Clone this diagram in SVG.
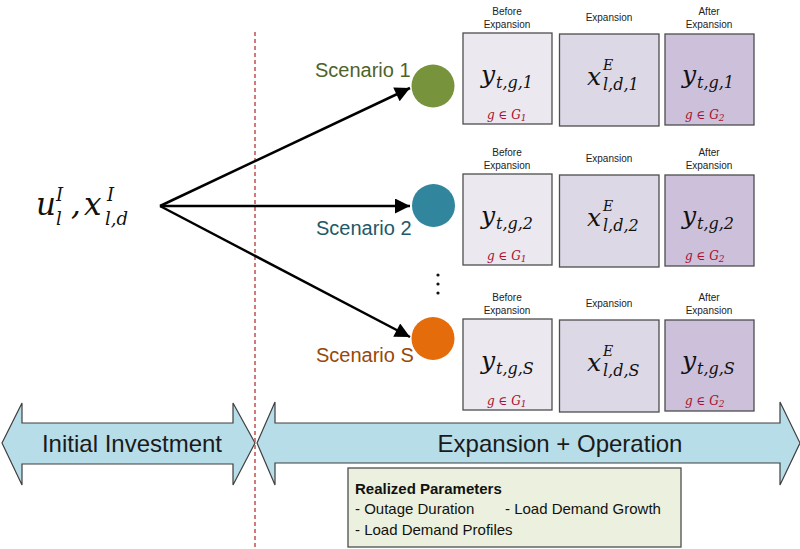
<svg xmlns="http://www.w3.org/2000/svg" width="800" height="549" viewBox="0 0 800 549">
<style>
.sans{font-family:"Liberation Sans","Noto Sans",sans-serif}
.math{font-family:"DejaVu Serif","Liberation Serif",serif;font-style:italic;fill:#111}
.m{font-size:25px}
.sb{font-size:16px}
.sp{font-size:14px}
.hdr{font-family:"Liberation Sans","Noto Sans",sans-serif;font-size:10px;fill:#222;text-anchor:middle}
.b1{fill:#ebe8f0;stroke:#4d4d4d;stroke-width:1.3}
.b2{fill:#ddd8e6;stroke:#4d4d4d;stroke-width:1.3}
.b3{fill:#ccc0da;stroke:#4d4d4d;stroke-width:1.3}
.gset{font-family:"DejaVu Serif","Liberation Serif",serif;font-style:italic;font-size:12px;fill:#a8102e}
.big{fill:#b7dde8;stroke:#3f3f3f;stroke-width:1.2}
.conn{stroke:#000;stroke-width:2.5;fill:none}
</style>
<defs>
<marker id="ah" viewBox="0 0 10 10" refX="10" refY="5" markerWidth="7" markerHeight="6" markerUnits="strokeWidth" orient="auto">
<path d="M0,0 L10,5 L0,10 z" fill="#000"/>
</marker>
</defs>

<g id="timeline">
<polygon class="big" points="2,443 22,403 22,423 233,423 233,403 255,443 233,485 233,464 22,464 22,485"/>
<polygon class="big" points="257,443 275,402 275,423 780,423 780,402 800,443 780,485 780,463 275,463 275,485"/>
<text class="sans" x="132" y="452" font-size="24" text-anchor="middle" fill="#1a1a1a">Initial Investment</text>
<text class="sans" x="560" y="452" font-size="24" text-anchor="middle" fill="#1a1a1a">Expansion + Operation</text>
</g>

<line id="divider" x1="255" y1="32" x2="255" y2="549" stroke="#c0504d" stroke-width="1.5" stroke-dasharray="4,3"/>

<g id="first-stage" class="math">
<text x="36" y="215" font-size="31">u</text>
<text x="56" y="201" font-size="18">I</text>
<text x="56" y="225" font-size="18">l</text>
<text x="71" y="215" font-size="31">,</text>
<text x="84" y="215" font-size="31">x</text>
<text x="107" y="201" font-size="18">I</text>
<text x="105" y="225" font-size="18">l,d</text>
</g>

<g id="connectors">
<line class="conn" x1="160" y1="206" x2="410" y2="88" marker-end="url(#ah)"/>
<line class="conn" x1="160" y1="206" x2="410" y2="206" marker-end="url(#ah)"/>
<line class="conn" x1="160" y1="206" x2="410" y2="337" marker-end="url(#ah)"/>
</g>

<g id="scenario1">
<circle cx="433" cy="86" r="21.5" fill="#77933c"/>
<text class="sans" x="315" y="77" font-size="20" fill="#4f6228">Scenario 1</text>
</g>
<g id="scenario2">
<circle cx="433.5" cy="205.5" r="21.5" fill="#31859c"/>
<text class="sans" x="316" y="235" font-size="20" fill="#215968">Scenario 2</text>
</g>
<g id="scenarioS">
<circle cx="433" cy="338.5" r="21.5" fill="#e46c0a"/>
<text class="sans" x="316" y="362" font-size="20" fill="#984807">Scenario S</text>
</g>

<g id="ellipsis" fill="#111">
<circle cx="438" cy="275" r="1.6"/>
<circle cx="438" cy="284" r="1.6"/>
<circle cx="438" cy="293" r="1.6"/>
</g>

<g id="row1">
<text class="hdr" x="507" y="15">Before</text>
<text class="hdr" x="507" y="28">Expansion</text>
<text class="hdr" x="609" y="21">Expansion</text>
<text class="hdr" x="709" y="15">After</text>
<text class="hdr" x="709" y="28">Expansion</text>
<rect class="b1" x="463" y="33" width="89" height="91"/>
<rect class="b2" x="559.5" y="34" width="99.5" height="92"/>
<rect class="b3" x="665" y="34" width="89" height="91"/>
<g class="math">
<text class="m" x="481" y="83">y</text><text class="sb" x="496" y="88">t,g,1</text>
<text class="m" x="587" y="85">x</text><text class="sp" x="603" y="70">E</text><text class="sb" x="603" y="90">l,d,1</text>
<text class="m" x="682" y="83">y</text><text class="sb" x="697" y="88">t,g,1</text>
</g>
<text class="gset"><tspan x="487" y="119">g ∈ G</tspan><tspan font-size="9" dy="2">1</tspan></text>
<text class="gset"><tspan x="685" y="119">g ∈ G</tspan><tspan font-size="9" dy="2">2</tspan></text>
</g>

<g id="row2" transform="translate(0,141)">
<text class="hdr" x="507" y="15">Before</text>
<text class="hdr" x="507" y="28">Expansion</text>
<text class="hdr" x="609" y="21">Expansion</text>
<text class="hdr" x="709" y="15">After</text>
<text class="hdr" x="709" y="28">Expansion</text>
<rect class="b1" x="463" y="33" width="89" height="91"/>
<rect class="b2" x="559.5" y="34" width="99.5" height="92"/>
<rect class="b3" x="665" y="34" width="89" height="91"/>
<g class="math">
<text class="m" x="481" y="83">y</text><text class="sb" x="496" y="88">t,g,2</text>
<text class="m" x="587" y="85">x</text><text class="sp" x="603" y="70">E</text><text class="sb" x="603" y="90">l,d,2</text>
<text class="m" x="682" y="83">y</text><text class="sb" x="697" y="88">t,g,2</text>
</g>
<text class="gset"><tspan x="487" y="119">g ∈ G</tspan><tspan font-size="9" dy="2">1</tspan></text>
<text class="gset"><tspan x="685" y="119">g ∈ G</tspan><tspan font-size="9" dy="2">2</tspan></text>
</g>

<g id="rowS" transform="translate(0,286)">
<text class="hdr" x="507" y="15">Before</text>
<text class="hdr" x="507" y="28">Expansion</text>
<text class="hdr" x="609" y="21">Expansion</text>
<text class="hdr" x="709" y="15">After</text>
<text class="hdr" x="709" y="28">Expansion</text>
<rect class="b1" x="463" y="33" width="89" height="91"/>
<rect class="b2" x="559.5" y="34" width="99.5" height="92"/>
<rect class="b3" x="665" y="34" width="89" height="91"/>
<g class="math">
<text class="m" x="481" y="83">y</text><text class="sb" x="496" y="88">t,g,S</text>
<text class="m" x="587" y="85">x</text><text class="sp" x="603" y="70">E</text><text class="sb" x="603" y="90">l,d,S</text>
<text class="m" x="682" y="83">y</text><text class="sb" x="697" y="88">t,g,S</text>
</g>
<text class="gset"><tspan x="487" y="119">g ∈ G</tspan><tspan font-size="9" dy="2">1</tspan></text>
<text class="gset"><tspan x="685" y="119">g ∈ G</tspan><tspan font-size="9" dy="2">2</tspan></text>
</g>

<g id="realized-parameters">
<rect x="348" y="468" width="333" height="79" fill="#ebf1de" stroke="#4d4d4d" stroke-width="1.3"/>
<text class="sans" x="355" y="494" font-size="15" font-weight="bold" fill="#111">Realized Parameters</text>
<text class="sans" x="355" y="514" font-size="15" fill="#111">- Outage Duration</text>
<text class="sans" x="505" y="514" font-size="15" fill="#111">- Load Demand Growth</text>
<text class="sans" x="355" y="535" font-size="15" fill="#111">- Load Demand Profiles</text>
</g>
</svg>
